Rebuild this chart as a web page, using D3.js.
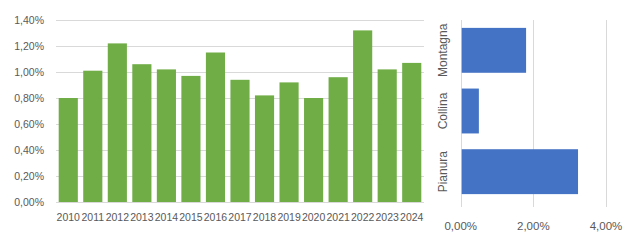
<!DOCTYPE html>
<html><head><meta charset="utf-8">
<script src="https://cdn.jsdelivr.net/npm/d3@7"></script>
<style>body{margin:0;background:#fff}svg{display:block}</style>
</head><body>
<svg id="c" width="630" height="240"></svg>
<script>
const years = ["2010","2011","2012","2013","2014","2015","2016","2017","2018","2019","2020","2021","2022","2023","2024"];
const yearValues = [0.80,1.01,1.22,1.06,1.02,0.97,1.15,0.94,0.82,0.92,0.80,0.96,1.32,1.02,1.07];
const yTicks = [0,0.2,0.4,0.6,0.8,1.0,1.2,1.4];
const zones = ["Montagna","Collina","Pianura"];
const zoneValues = [1.80,0.50,3.23];
const xTicks = [0,2,4];

const svg = d3.select("#c");
const font = "'Liberation Sans', Arial, sans-serif";
const txt = "#595959", grid = "#D9D9D9";
const fmt = v => v.toFixed(2).replace(".", ",") + "%";

// Left chart
const x1 = d3.scaleBand().domain(years).range([56, 424]).paddingInner(0.22).paddingOuter(0.11);
const y1 = d3.scaleLinear().domain([0, 1.4]).range([202, 20]);
const g1 = svg.append("g");
g1.selectAll("line.g").data(yTicks).join("line")
  .attr("x1", 56).attr("x2", 424).attr("y1", d => y1(d)+0.5).attr("y2", d => y1(d)+0.5)
  .attr("stroke", grid).attr("stroke-width", 1);
g1.selectAll("rect").data(years).join("rect")
  .attr("x", d => x1(d)).attr("width", x1.bandwidth())
  .attr("y", (d,i) => y1(yearValues[i])).attr("height", (d,i) => y1(0) - y1(yearValues[i]))
  .attr("fill", "#70AD47");
g1.selectAll("text.y").data(yTicks).join("text")
  .attr("x", 44).attr("y", d => y1(d)).attr("dy", "0.35em").attr("text-anchor", "end")
  .attr("font-family", font).attr("font-size", 10.5).attr("fill", txt).text(fmt);
g1.selectAll("text.x").data(years).join("text")
  .attr("x", d => x1(d) + x1.bandwidth()/2).attr("y", 221).attr("text-anchor", "middle")
  .attr("font-family", font).attr("font-size", 10.5).attr("fill", txt).text(d => d);

// Right chart
const x2 = d3.scaleLinear().domain([0, 4]).range([460.7, 606]);
const y2 = d3.scaleBand().domain(zones).range([20, 202]).paddingInner(0.26).paddingOuter(0.13);
const g2 = svg.append("g");
g2.selectAll("line.v").data(xTicks).join("line")
  .attr("x1", d => Math.round(x2(d))+0.5).attr("x2", d => Math.round(x2(d))+0.5)
  .attr("y1", 20).attr("y2", 207).attr("stroke", grid).attr("stroke-width", 1);
g2.selectAll("rect").data(zones).join("rect")
  .attr("x", x2(0)+1).attr("y", d => y2(d)).attr("height", y2.bandwidth())
  .attr("width", (d,i) => x2(zoneValues[i]) - x2(0) - 1)
  .attr("fill", "#4472C4");
g2.selectAll("text.x").data(xTicks).join("text")
  .attr("x", d => x2(d)).attr("y", 230).attr("text-anchor", "middle")
  .attr("font-family", font).attr("font-size", 11.5).attr("fill", txt).text(fmt);
g2.selectAll("text.c").data(zones).join("text")
  .attr("transform", d => `translate(447,${y2(d) + y2.bandwidth()/2}) rotate(-90)`)
  .attr("text-anchor", "middle")
  .attr("font-family", font).attr("font-size", 12).attr("fill", txt).text(d => d);
</script>
</body></html>
